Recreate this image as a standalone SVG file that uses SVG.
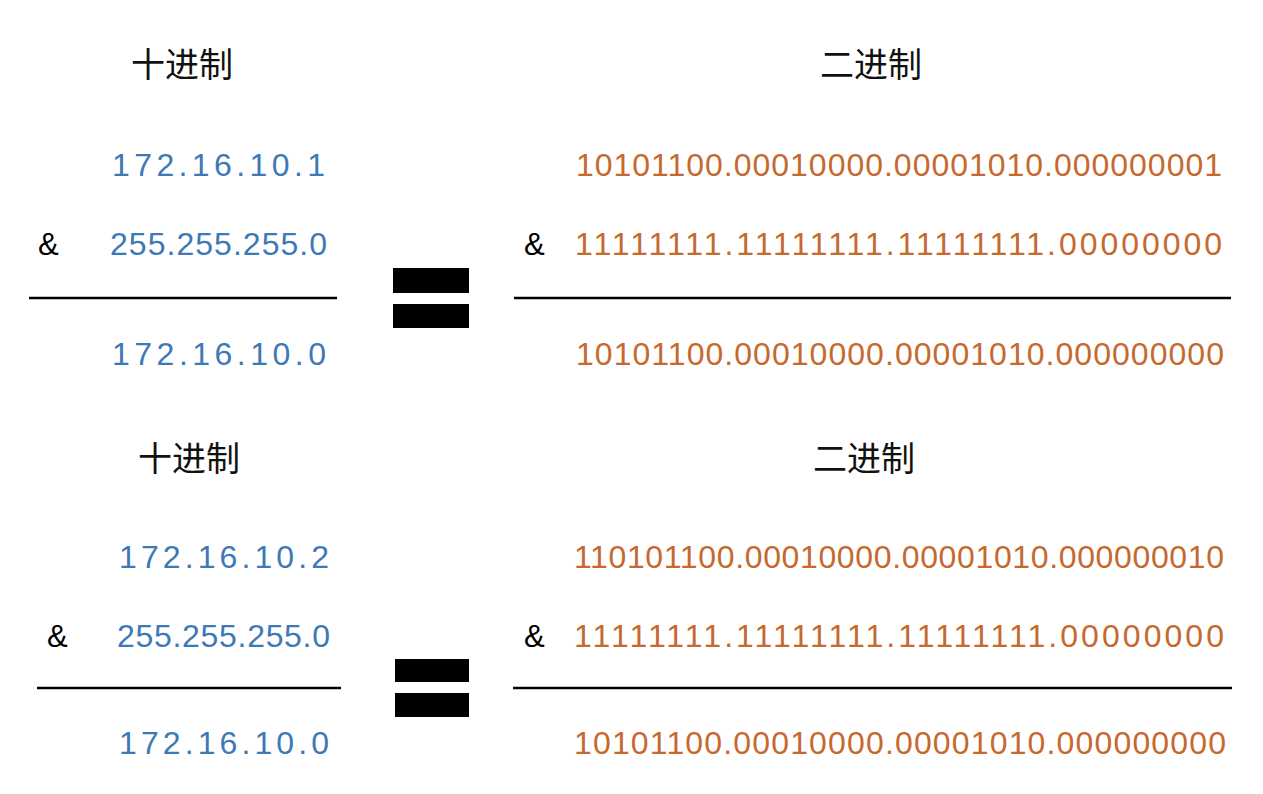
<svg xmlns="http://www.w3.org/2000/svg" width="1263" height="794" viewBox="0 0 1263 794">
<style>
.hd{font-family:"Noto Sans CJK SC","Noto Sans",sans-serif;font-size:34px;fill:#111}
.dec{font-family:"Liberation Sans",Arial,sans-serif;font-size:32px;fill:#3d79b6}
.bin{font-family:"Liberation Sans",Arial,sans-serif;font-size:32px;fill:#c6692f}
.amp{font-family:"Liberation Sans",Arial,sans-serif;font-size:31px;fill:#000}
.rule{stroke:#000;stroke-width:2.5}
.eq{fill:#000}
</style>
<rect width="1263" height="794" fill="#fff"/>
<g id="top-decimal">
<text class="hd" x="131" y="77">十进制</text>
<text class="dec" x="112" y="176" textLength="213" lengthAdjust="spacing">172.16.10.1</text>
<text class="amp" x="38" y="255">&amp;</text>
<text class="dec" x="110" y="255" textLength="217" lengthAdjust="spacing">255.255.255.0</text>
<line class="rule" x1="29" y1="298" x2="337" y2="298"/>
<text class="dec" x="112" y="365" textLength="214" lengthAdjust="spacing">172.16.10.0</text>
</g>
<g id="top-equals">
<rect class="eq" x="393" y="268" width="76" height="25"/>
<rect class="eq" x="393" y="304" width="76" height="24"/>
</g>
<g id="top-binary">
<text class="hd" x="820" y="77">二进制</text>
<text class="bin" x="576" y="176" textLength="646" lengthAdjust="spacing">10101100.00010000.00001010.000000001</text>
<text class="amp" x="524" y="255">&amp;</text>
<text class="bin" x="575" y="255" textLength="647" lengthAdjust="spacing">11111111.11111111.11111111.00000000</text>
<line class="rule" x1="514" y1="298" x2="1231" y2="298"/>
<text class="bin" x="576" y="365" textLength="648" lengthAdjust="spacing">10101100.00010000.00001010.000000000</text>
</g>
<g id="bottom-decimal">
<text class="hd" x="138" y="471">十进制</text>
<text class="dec" x="119" y="568" textLength="210" lengthAdjust="spacing">172.16.10.2</text>
<text class="amp" x="47" y="647">&amp;</text>
<text class="dec" x="117" y="647" textLength="213" lengthAdjust="spacing">255.255.255.0</text>
<line class="rule" x1="37" y1="688" x2="341" y2="688"/>
<text class="dec" x="119" y="754" textLength="210" lengthAdjust="spacing">172.16.10.0</text>
</g>
<g id="bottom-equals">
<rect class="eq" x="395" y="659" width="74" height="23"/>
<rect class="eq" x="395" y="693" width="74" height="24"/>
</g>
<g id="bottom-binary">
<text class="hd" x="813" y="471">二进制</text>
<text class="bin" x="574" y="568" textLength="650" lengthAdjust="spacing">110101100.00010000.00001010.000000010</text>
<text class="amp" x="524" y="647">&amp;</text>
<text class="bin" x="574" y="647" textLength="650" lengthAdjust="spacing">11111111.11111111.11111111.00000000</text>
<line class="rule" x1="513" y1="688" x2="1232" y2="688"/>
<text class="bin" x="574" y="754" textLength="652" lengthAdjust="spacing">10101100.00010000.00001010.000000000</text>
</g>
</svg>
